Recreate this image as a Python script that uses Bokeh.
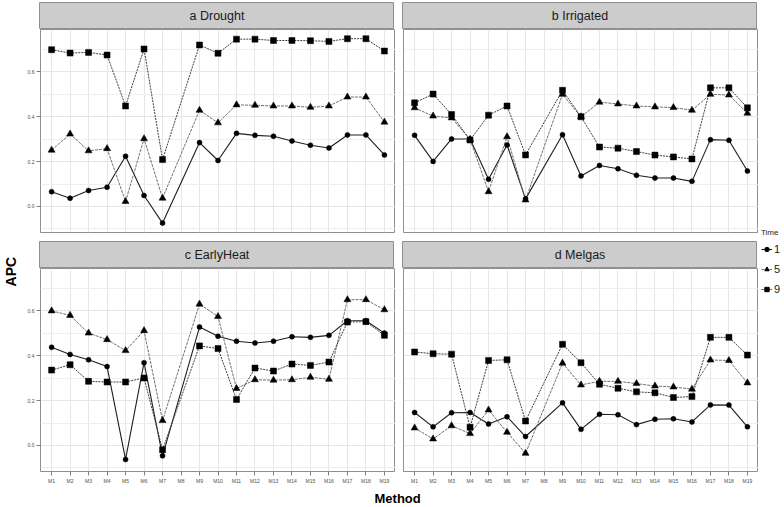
from math import pi
from bokeh.plotting import figure
from bokeh.models import (FactorRange, Range1d, FixedTicker, PrintfTickFormatter, Label,
                          Legend, LegendItem, ColumnDataSource, CategoricalTicker)
from bokeh.layouts import row, column
from bokeh.embed import file_html
from bokeh.resources import INLINE

# ---------------- data ----------------
methods = ["M1", "M2", "M3", "M4", "M5", "M6", "M7", "M8", "M9", "M10",
           "M11", "M12", "M13", "M14", "M15", "M16", "M17", "M18", "M19"]
observed = ["M1", "M2", "M3", "M4", "M5", "M6", "M7", "M9", "M10",
            "M11", "M12", "M13", "M14", "M15", "M16", "M17", "M18", "M19"]
times = ["1", "5", "9"]
y_ticks = [0.0, 0.2, 0.4, 0.6]
y_minor = [-0.1, 0.1, 0.3, 0.5, 0.7]

drought_t1 = [0.066, 0.037, 0.071, 0.086, 0.224, 0.049, -0.074, 0.285, 0.205, 0.326, 0.317, 0.313, 0.292, 0.273, 0.261, 0.319, 0.319, 0.230]
drought_t5 = [0.251, 0.323, 0.248, 0.258, 0.022, 0.302, 0.037, 0.429, 0.373, 0.453, 0.451, 0.448, 0.448, 0.442, 0.448, 0.488, 0.488, 0.376]
drought_t9 = [0.699, 0.684, 0.687, 0.675, 0.448, 0.702, 0.209, 0.720, 0.683, 0.746, 0.746, 0.740, 0.740, 0.739, 0.736, 0.748, 0.748, 0.693]

irrigated_t1 = [0.317, 0.201, 0.301, 0.301, 0.121, 0.274, 0.034, 0.320, 0.136, 0.183, 0.168, 0.139, 0.127, 0.127, 0.112, 0.298, 0.295, 0.158]
irrigated_t5 = [0.440, 0.403, 0.395, 0.299, 0.066, 0.311, 0.029, 0.500, 0.400, 0.465, 0.457, 0.448, 0.444, 0.441, 0.429, 0.500, 0.497, 0.416]
irrigated_t9 = [0.462, 0.501, 0.410, 0.296, 0.407, 0.448, 0.230, 0.518, 0.400, 0.265, 0.260, 0.245, 0.229, 0.221, 0.212, 0.529, 0.529, 0.440]

earlyheat_t1 = [0.438, 0.406, 0.382, 0.352, -0.062, 0.369, -0.046, 0.528, 0.487, 0.465, 0.457, 0.465, 0.485, 0.482, 0.491, 0.556, 0.556, 0.501]
earlyheat_t5 = [0.600, 0.580, 0.501, 0.472, 0.423, 0.512, 0.111, 0.630, 0.575, 0.254, 0.293, 0.291, 0.293, 0.304, 0.295, 0.650, 0.650, 0.605]
earlyheat_t9 = [0.336, 0.360, 0.286, 0.283, 0.283, 0.301, -0.019, 0.444, 0.432, 0.205, 0.345, 0.332, 0.363, 0.357, 0.372, 0.550, 0.552, 0.491]

melgas_t1 = [0.147, 0.083, 0.146, 0.147, 0.096, 0.128, 0.040, 0.190, 0.072, 0.139, 0.137, 0.093, 0.117, 0.119, 0.105, 0.181, 0.180, 0.083]
melgas_t5 = [0.078, 0.029, 0.088, 0.053, 0.158, 0.059, -0.035, 0.367, 0.270, 0.286, 0.286, 0.276, 0.265, 0.261, 0.251, 0.381, 0.379, 0.279]
melgas_t9 = [0.417, 0.409, 0.407, 0.081, 0.379, 0.382, 0.109, 0.451, 0.369, 0.273, 0.255, 0.239, 0.235, 0.214, 0.218, 0.482, 0.482, 0.403]

panel_titles = ["a Drought", "b Irrigated", "c EarlyHeat", "d Melgas"]
panel_series = [
    [drought_t1, drought_t5, drought_t9],
    [irrigated_t1, irrigated_t5, irrigated_t9],
    [earlyheat_t1, earlyheat_t5, earlyheat_t9],
    [melgas_t1, melgas_t5, melgas_t9],
]

# ---------------- style ----------------
FONT = "Liberation Sans"
FW, FH, SH = 355, 203, 27
LEFT_B, RIGHT_B = 15, 8
TOTAL_H = 505
OUT = "#8f8f8f"
STRIP = "#cccccc"
GRID = "#e6e6e6"
GRID_MINOR = "#efefef"
styles = {
    "1": dict(marker="circle", size=5, color="#1e1e1e", dash="solid", lw=1.1),
    "5": dict(marker="triangle", size=7, color="#707070", dash="3 1", lw=1.0),
    "9": dict(marker="square", size=6, color="#3c3c3c", dash="2 1", lw=1.0),
}

x_range = FactorRange(factors=methods, range_padding=0.1, range_padding_units="absolute")
y_range = Range1d(-0.116, 0.789)


def make_panel(series, left, bottom):
    p = figure(x_range=x_range, y_range=y_range, frame_width=FW, frame_height=FH,
               min_border_left=LEFT_B if left else RIGHT_B, min_border_right=0, min_border_top=0,
               min_border_bottom=12 if bottom else 9,
               toolbar_location=None, output_backend="svg",
               background_fill_color="white", border_fill_color="white",
               outline_line_color=OUT, outline_line_width=1)
    yt = FixedTicker(ticks=y_ticks, minor_ticks=y_minor)
    p.yaxis.ticker = yt
    p.ygrid.ticker = yt
    p.xgrid.ticker = CategoricalTicker()
    p.yaxis.formatter = PrintfTickFormatter(format="%.1f")
    for ax in (p.xaxis[0], p.yaxis[0]):
        ax.axis_line_color = None
        ax.major_tick_line_color = "#7f7f7f"
        ax.major_tick_out = 4
        ax.major_tick_in = 0
        ax.minor_tick_line_color = None
        ax.major_label_text_font_size = "5px"
        ax.major_label_text_font = FONT
        ax.major_label_text_color = "#4d4d4d"
        ax.major_label_standoff = 2
    p.yaxis.visible = left
    p.xaxis.visible = bottom
    p.xgrid.grid_line_color = GRID
    p.ygrid.grid_line_color = GRID
    p.ygrid.minor_grid_line_color = GRID_MINOR
    for t, vals in zip(times, series):
        st = styles[t]
        src = ColumnDataSource(dict(x=observed, y=vals))
        p.line("x", "y", source=src, line_color=st["color"], line_width=st["lw"],
               line_dash=st["dash"])
    for t, vals in zip(times, series):
        st = styles[t]
        src = ColumnDataSource(dict(x=observed, y=vals))
        p.scatter("x", "y", source=src, marker=st["marker"], size=st["size"],
                  fill_color="black", line_color="black", line_width=0.5)
    return p


def make_strip(text, left, top):
    s = figure(x_range=Range1d(0, 1), y_range=Range1d(0, 1), frame_width=FW, frame_height=SH,
               min_border_left=LEFT_B if left else RIGHT_B, min_border_right=0, min_border_top=top,
               min_border_bottom=0, toolbar_location=None, output_backend="svg",
               background_fill_color=STRIP, border_fill_color="white",
               outline_line_color=OUT, outline_line_width=1)
    s.axis.visible = False
    s.grid.visible = False
    s.add_layout(Label(x=0.5, y=0.5, text=text, text_align="center", text_baseline="middle",
                       text_font=FONT, text_font_size="12.5px", text_color="#1a1a1a"))
    return s


def blank(w, h):
    f = figure(x_range=Range1d(0, 1), y_range=Range1d(0, 1), frame_width=w, frame_height=h,
               min_border=0, toolbar_location=None, output_backend="svg",
               background_fill_color="white", border_fill_color="white",
               outline_line_color=None)
    f.axis.visible = False
    f.grid.visible = False
    return f


pa = make_panel(panel_series[0], True, False)
pb = make_panel(panel_series[1], False, False)
pc = make_panel(panel_series[2], True, True)
pd = make_panel(panel_series[3], False, True)
sa = make_strip(panel_titles[0], True, 2)
sb = make_strip(panel_titles[1], False, 2)
sc = make_strip(panel_titles[2], True, 0)
sd = make_strip(panel_titles[3], False, 0)

# y axis title
apc = blank(24, TOTAL_H)
apc.add_layout(Label(x=0.42, y=0.463, text="APC", angle=pi / 2, text_align="center",
                     text_baseline="middle", text_font=FONT, text_font_size="14px",
                     text_font_style="bold", text_color="black"))

# x axis title
grid_w = (LEFT_B + FW) + (RIGHT_B + FW)
METH_H = 22
meth = blank(grid_w, METH_H)
meth.add_layout(Label(x=0.509, y=0.45, text="Method", text_align="center",
                      text_baseline="middle", text_font=FONT, text_font_size="13px",
                      text_font_style="bold", text_color="black"))

# legend (hidden key renderers, drawn only inside the legend)
leg = blank(784 - 24 - grid_w, TOTAL_H)
key_x = [0.0, 1.0]
key_y = [0.0, 0.0]
items = []
for t in times:
    st = styles[t]
    lr = leg.line(x=key_x, y=key_y, line_color=st["color"], line_width=st["lw"],
                  line_dash=st["dash"], visible=False)
    sr = leg.scatter(x=key_x, y=key_y, marker=st["marker"], size=st["size"],
                     fill_color="black", line_color="black", visible=False)
    items.append(LegendItem(label=t, renderers=[lr, sr]))
legend = Legend(items=items, title="Time", location=(3, 207),
                title_text_font=FONT, title_text_font_size="8px", title_text_font_style="normal",
                title_text_color="#1a1a1a", title_standoff=3,
                label_text_font=FONT, label_text_font_size="11px", label_text_color="#1a1a1a",
                glyph_width=11, glyph_height=18, label_standoff=2, label_height=18,
                spacing=2, padding=2, margin=0, click_policy="none",
                inactive_fill_alpha=0.0,
                border_line_color=None, background_fill_alpha=0)
leg.add_layout(legend)

grid = column(row(sa, sb), row(pa, pb), row(sc, sd), row(pc, pd), meth)
layout = row(apc, grid, leg)

open("out.html", "w").write(file_html(layout, INLINE))
